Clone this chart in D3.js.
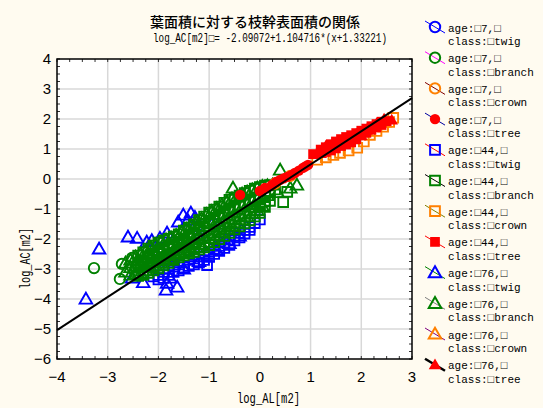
<!DOCTYPE html>
<html><head><meta charset="utf-8">
<script src="https://cdn.jsdelivr.net/npm/d3@7"></script>
<style>body{margin:0;background:#FFFBF0;}svg{display:block;}</style>
</head><body>
<script>
// ---- data ----
const title = "葉面積に対する枝幹表面積の関係";
const subtitle = "log_AC[m2]□= -2.09072+1.104716*(x+1.33221)";
const xLabel = "log_AL[m2]";
const yLabel = "log_AC[m2]";
const xTicks = [-4,-3,-2,-1,0,1,2,3];
const yTicks = [4,3,2,1,0,-1,-2,-3,-4,-5,-6];
const ages = ["7","44","76"];
const classes = ["twig","branch","crown","tree"];
const regA = -2.09072, regB = 1.104716, regC = 1.33221;

const twig7 = [[-1.6,-2.2],[-1.2,-1.85],[-0.9,-1.5]];
const branch7 = [[-3.27,-2.97],[-2.76,-3.33],[-2.72,-2.83],[-2.52,-2.63],[-2.45,-2.95],[-2.35,-2.75],[-2.2,-2.55],[-2.0,-2.4],[-1.8,-2.2],[-1.6,-2.0],[-1.4,-1.85],[-1.2,-1.6],[-1.0,-1.45],[-0.8,-1.2],[-0.6,-1.0]];
const crown7 = [[0.3,-0.15],[0.6,0.1]];
const tree7 = [[-0.39,-0.53],[0.0,-0.4],[0.1,-0.3],[0.24,-0.2],[0.32,-0.1],[0.4,-0.03],[0.47,0.02],[0.54,0.07],[0.62,0.13],[0.69,0.2],[0.77,0.28],[0.85,0.37],[0.9,0.42],[0.95,0.47]];
const twig44 = [[-2.1,-3.25],[-2.0,-3.2],[-2.0,-3.35],[-1.9,-3.1],[-1.9,-3.3],[-1.8,-3.0],[-1.8,-3.2],[-1.7,-2.92],[-1.7,-3.1],[-1.6,-2.85],[-1.6,-3.05],[-1.5,-2.78],[-1.5,-2.95],[-1.4,-2.7],[-1.4,-2.9],[-1.3,-2.65],[-1.3,-2.85],[-1.2,-2.58],[-1.2,-2.78],[-1.1,-2.5],[-1.1,-2.7],[-1.0,-2.43],[-1.0,-2.6],[-1.04,-2.87],[-0.9,-2.33],[-0.9,-2.5],[-0.8,-2.23],[-0.8,-2.4],[-0.7,-2.12],[-0.7,-2.3],[-0.6,-2.02],[-0.6,-2.2],[-0.5,-1.9],[-0.5,-2.05],[-0.4,-1.8],[-0.4,-1.95],[-0.3,-1.7],[-0.3,-1.82],[-0.2,-1.6],[-0.2,-1.7],[-0.1,-1.47],[0.0,-1.35]];
const branch44 = [
 [-2.4,-2.55],[-2.4,-2.8],[-2.4,-3.05],[-2.4,-3.23],
 [-2.3,-2.44],[-2.3,-2.7],[-2.3,-2.95],[-2.3,-3.2],
 [-2.2,-2.32],[-2.2,-2.6],[-2.2,-2.85],[-2.2,-3.13],
 [-2.1,-2.22],[-2.1,-2.5],[-2.1,-2.78],[-2.1,-3.05],
 [-2.0,-2.12],[-2.0,-2.4],[-2.0,-2.7],[-2.0,-2.98],
 [-1.9,-2.05],[-1.9,-2.33],[-1.9,-2.6],[-1.9,-2.88],
 [-1.8,-1.99],[-1.8,-2.25],[-1.8,-2.52],[-1.8,-2.8],
 [-1.7,-1.92],[-1.7,-2.18],[-1.7,-2.45],[-1.7,-2.7],
 [-1.6,-1.84],[-1.6,-2.1],[-1.6,-2.36],[-1.6,-2.61],
 [-1.5,-1.72],[-1.5,-2.0],[-1.5,-2.28],[-1.5,-2.55],
 [-1.4,-1.62],[-1.4,-1.9],[-1.4,-2.2],[-1.4,-2.48],
 [-1.3,-1.52],[-1.3,-1.8],[-1.3,-2.1],[-1.3,-2.43],
 [-1.2,-1.37],[-1.2,-1.68],[-1.2,-2.0],[-1.2,-2.35],
 [-1.1,-1.25],[-1.1,-1.57],[-1.1,-1.9],[-1.1,-2.28],
 [-1.0,-1.12],[-1.0,-1.45],[-1.0,-1.8],[-1.0,-2.21],
 [-0.9,-1.02],[-0.9,-1.35],[-0.9,-1.7],[-0.9,-2.11],
 [-0.8,-0.92],[-0.8,-1.25],[-0.8,-1.6],[-0.8,-2.01],
 [-0.7,-0.79],[-0.7,-1.15],[-0.7,-1.5],[-0.7,-1.9],
 [-0.6,-0.69],[-0.6,-1.05],[-0.6,-1.42],[-0.6,-1.8],
 [-0.5,-0.62],[-0.5,-0.95],[-0.5,-1.32],[-0.5,-1.68],
 [-0.4,-0.55],[-0.4,-0.88],[-0.4,-1.22],[-0.4,-1.58],
 [-0.3,-0.47],[-0.3,-0.8],[-0.3,-1.15],[-0.3,-1.48],
 [-0.2,-0.39],[-0.2,-0.72],[-0.2,-1.05],[-0.2,-1.38],
 [-0.1,-0.32],[-0.1,-0.65],[-0.1,-0.95],[-0.1,-1.25],
 [0.0,-0.27],[0.0,-0.58],[0.0,-0.85],[0.0,-1.13],
 [0.1,-0.22],[0.1,-0.5],[0.1,-0.75],[0.1,-0.93],
 [0.2,-0.2],[0.2,-0.45],[0.2,-0.73],
 [0.3,-0.35],[0.46,-0.77],[0.54,-0.43]];
const crown44 = [[1.13,0.64],[1.3,0.72],[1.45,0.8],[1.58,0.87],[1.75,0.95],[1.92,1.04],[2.05,1.25],[2.17,1.47],[2.3,1.6],[2.43,1.74],[2.55,1.9],[2.63,2.04]];
const tree44 = [[1.05,0.83],[1.2,0.98],[1.2,0.87],[1.3,1.06],[1.3,0.9],[1.4,1.16],[1.4,0.95],[1.5,1.25],[1.5,1.02],[1.6,1.33],[1.6,1.1],[1.7,1.4],[1.7,1.15],[1.8,1.46],[1.8,1.22],[1.9,1.53],[1.9,1.32],[2.0,1.61],[2.0,1.45],[2.1,1.68],[2.1,1.54],[2.2,1.76],[2.2,1.64],[2.3,1.83],[2.3,1.72],[2.4,1.91],[2.4,1.8],[2.5,1.93]];
const twig76 = [[-3.43,-4.0],[-3.17,-2.33],[-2.6,-1.93],[-2.42,-1.97],[-2.23,-2.1],[-2.13,-2.05],[-1.97,-1.97],[-1.83,-1.8],[-1.61,-1.43],[-1.51,-1.2],[-1.36,-1.13],[-1.28,-1.27],[-1.42,-1.37],[-1.85,-3.7],[-1.63,-3.6],[-1.83,-3.47],[-1.77,-3.3],[-0.85,-2.37],[-2.52,-3.3],[-2.3,-3.45],[-1.5,-3.0],[-1.2,-2.75],[-0.6,-2.15],[-0.4,-1.9],[-2.0,-2.6],[-1.6,-2.3],[-1.2,-1.9],[-0.8,-1.5]];
const branch76 = [
 [-2.65,-2.8],[-2.65,-3.1],
 [-2.55,-2.7],[-2.55,-2.95],[-2.55,-3.2],
 [-2.45,-2.6],[-2.45,-2.9],[-2.45,-3.15],
 [-2.35,-2.5],[-2.35,-2.85],[-2.35,-3.15],
 [-2.25,-2.4],[-2.25,-2.75],[-2.25,-3.05],
 [-2.15,-2.28],[-2.15,-2.65],[-2.15,-2.95],
 [-2.05,-2.18],[-2.05,-2.55],[-2.05,-2.9],
 [-1.95,-2.1],[-1.95,-2.45],[-1.95,-2.8],
 [-1.85,-2.02],[-1.85,-2.38],[-1.85,-2.72],
 [-1.75,-1.96],[-1.75,-2.3],[-1.75,-2.65],
 [-1.65,-1.88],[-1.65,-2.22],[-1.65,-2.55],
 [-1.55,-1.78],[-1.55,-2.12],[-1.55,-2.48],
 [-1.45,-1.67],[-1.45,-2.05],[-1.45,-2.42],
 [-1.35,-1.55],[-1.35,-1.95],[-1.35,-2.35],
 [-1.25,-1.45],[-1.25,-1.85],[-1.25,-2.28],
 [-1.15,-1.32],[-1.15,-1.72],[-1.15,-2.18],
 [-1.05,-1.18],[-1.05,-1.6],[-1.05,-2.1],
 [-0.95,-1.08],[-0.95,-1.5],[-0.95,-1.98],
 [-0.85,-0.98],[-0.85,-1.4],[-0.85,-1.88],
 [-0.75,-0.86],[-0.75,-1.3],[-0.75,-1.75],
 [-0.65,-0.75],[-0.65,-1.2],[-0.65,-1.65],
 [-0.55,-0.66],[-0.55,-1.1],[-0.55,-1.55],
 [-0.45,-0.58],[-0.45,-1.0],[-0.45,-1.45],
 [-0.35,-0.5],[-0.35,-0.92],[-0.35,-1.35],
 [-0.25,-0.43],[-0.25,-0.85],[-0.25,-1.25],
 [-0.15,-0.36],[-0.15,-0.75],[-0.15,-1.15],
 [-0.05,-0.3],[-0.05,-0.68],[-0.05,-1.05],
 [0.05,-0.25],[0.05,-0.6],[0.05,-0.9],
 [0.15,-0.22],[0.15,-0.55],
 [0.25,-0.2],
 [0.4,0.3],[-0.53,-0.3],[0.73,-0.2],[0.35,-0.45],[0.6,-0.3]];
const crown76 = [[2.45,1.9],[1.7,1.25]];
const tree76 = [[1.3,1.1],[1.5,1.2],[1.7,1.35],[1.9,1.5],[2.1,1.65],[2.3,1.85],[2.45,2.0],[2.6,1.97],[1.2,0.85],[2.0,1.45]];

// series in legend order
const seriesList = [
  {age:"7", cls:"twig",   pts:twig7,   shape:"circle",   color:"#0000FF", fill:false, line:"#0000FF", lw:1},
  {age:"7", cls:"branch", pts:branch7, shape:"circle",   color:"#008000", fill:false, line:"#FF00FF", lw:1},
  {age:"7", cls:"crown",  pts:crown7,  shape:"circle",   color:"#FF8000", fill:false, line:"#800000", lw:1},
  {age:"7", cls:"tree",   pts:tree7,   shape:"circle",   color:"#FF0000", fill:true,  line:"#0000A0", lw:1},
  {age:"44",cls:"twig",   pts:twig44,  shape:"square",   color:"#0000FF", fill:false, line:"#FF0000", lw:1},
  {age:"44",cls:"branch", pts:branch44,shape:"square",   color:"#008000", fill:false, line:"#000000", lw:1},
  {age:"44",cls:"crown",  pts:crown44, shape:"square",   color:"#FF8000", fill:false, line:"#808000", lw:1},
  {age:"44",cls:"tree",   pts:tree44,  shape:"square",   color:"#FF0000", fill:true,  line:"#FF0000", lw:1},
  {age:"76",cls:"twig",   pts:twig76,  shape:"triangle", color:"#0000FF", fill:false, line:"#008000", lw:1},
  {age:"76",cls:"branch", pts:branch76,shape:"triangle", color:"#008000", fill:false, line:"#808080", lw:1},
  {age:"76",cls:"crown",  pts:crown76, shape:"triangle", color:"#FF8000", fill:false, line:"#800080", lw:1},
  {age:"76",cls:"tree",   pts:tree76,  shape:"triangle", color:"#FF0000", fill:true,  line:"#000000", lw:2.5}
];

// ---- drawing ----
const W=543, H=408;
const svg = d3.select("body").append("svg").attr("width",W).attr("height",H);
svg.append("rect").attr("width",W).attr("height",H).attr("fill","#FFFBF0");

const x = d3.scaleLinear().domain([-4,3]).range([57,412]);
const y = d3.scaleLinear().domain([-6,4]).range([359,59]);

svg.append("rect").attr("x",x(-4)).attr("y",y(4)).attr("width",x(3)-x(-4)).attr("height",y(-6)-y(4)).attr("fill","#FFFFFF");

// grid
const grid = svg.append("g");
grid.selectAll("line.gx").data(xTicks.slice(1,-1)).join("line")
  .attr("x1",d=>x(d)).attr("x2",d=>x(d)).attr("y1",y(4)).attr("y2",y(-6))
  .attr("stroke","#D8D8D8").attr("stroke-width",1.5);
grid.selectAll("line.gy").data(yTicks.slice(1,-1)).join("line")
  .attr("y1",d=>y(d)).attr("y2",d=>y(d)).attr("x1",x(-4)).attr("x2",x(3))
  .attr("stroke","#D8D8D8").attr("stroke-width",1.5);

// minor ticks (inside)
const xMinor = d3.range(-4,3.001,0.25);
const yMinor = d3.range(-6,4.001,0.25);
const tk = svg.append("g").attr("stroke","#333").attr("stroke-width",1);
xMinor.forEach(v=>{
  tk.append("line").attr("x1",x(v)).attr("x2",x(v)).attr("y1",y(4)).attr("y2",y(4)+3);
  tk.append("line").attr("x1",x(v)).attr("x2",x(v)).attr("y1",y(-6)).attr("y2",y(-6)-3);
});
yMinor.forEach(v=>{
  tk.append("line").attr("y1",y(v)).attr("y2",y(v)).attr("x1",x(3)).attr("x2",x(3)-3);
  tk.append("line").attr("y1",y(v)).attr("y2",y(v)).attr("x1",x(-4)).attr("x2",x(-4)+3);
});

// symbols
const symType = {circle:d3.symbolCircle, square:d3.symbolSquare, triangle:d3.symbolTriangle};
const symSize = {circle:85, square:95, triangle:68};
function sym(shape){ return d3.symbol().type(symType[shape]).size(symSize[shape])(); }

// draw order: by class (twig, branch, crown, tree), then age
const drawOrder = [];
classes.forEach(c=>ages.forEach(a=>{ const s=seriesList.find(s=>s.age===a&&s.cls===c); if(s) drawOrder.push(s); }));

const plot = svg.append("g");
drawOrder.forEach(s=>{
  plot.append("g").selectAll("path").data(s.pts).join("path")
    .attr("d", sym(s.shape))
    .attr("transform", d=>`translate(${x(d[0])},${y(d[1]) + (s.shape==="triangle"?1:0)})`)
    .attr("fill", s.fill? s.color : "none")
    .attr("stroke", s.color).attr("stroke-width", s.fill?0:1.9);
});

// regression line
svg.append("line")
  .attr("x1",x(-4)).attr("y1",y(regA+regB*(-4+regC)))
  .attr("x2",x(3)).attr("y2",y(regA+regB*(3+regC)))
  .attr("stroke","#000").attr("stroke-width",2);

// frame
svg.append("rect").attr("x",x(-4)).attr("y",y(4)).attr("width",x(3)-x(-4)).attr("height",y(-6)-y(4))
  .attr("fill","none").attr("stroke","#000").attr("stroke-width",1.5);

// tick labels
const fmt = d3.format("d");
const tickFont = "'Liberation Sans Narrow','Liberation Sans',sans-serif";
svg.append("g").selectAll("text").data(xTicks).join("text")
  .attr("x",d=>x(d)).attr("y",382).attr("text-anchor","middle")
  .attr("font-family",tickFont).attr("font-size",15).attr("fill","#000").text(d=>fmt(d));
svg.append("g").selectAll("text").data(yTicks).join("text")
  .attr("x",51).attr("y",d=>y(d)+5).attr("text-anchor","end")
  .attr("font-family",tickFont).attr("font-size",15).attr("fill","#000").text(d=>fmt(d));

// titles
const mono = "'Liberation Mono','DejaVu Sans Mono',monospace";
svg.append("text").attr("x",255).attr("y",27).attr("text-anchor","middle")
  .attr("font-family","'Noto Sans CJK JP',sans-serif").attr("font-size",14).attr("font-weight",500).text(title);
svg.append("text").attr("x",153).attr("y",42)
  .attr("font-family",mono).attr("font-size",12).attr("textLength",234).attr("lengthAdjust","spacingAndGlyphs").text(subtitle);
svg.append("text").attr("x",237).attr("y",403)
  .attr("font-family",mono).attr("font-size",14).attr("textLength",63).attr("lengthAdjust","spacingAndGlyphs").text(xLabel);
svg.append("text").attr("transform","translate(30,289) rotate(-90)")
  .attr("font-family",mono).attr("font-size",14).attr("textLength",61).attr("lengthAdjust","spacingAndGlyphs").text(yLabel);

// legend
const lg = svg.append("g");
seriesList.forEach((s,i)=>{
  const cy = 27 + 30.7*i, cx = 435;
  lg.append("line").attr("x1",cx-10).attr("y1",cy-6).attr("x2",cx+10).attr("y2",cy+6)
    .attr("stroke",s.line).attr("stroke-width",s.lw);
  lg.append("path").attr("d",sym(s.shape)).attr("transform",`translate(${cx},${cy + (s.shape==="triangle"?1:0)})`)
    .attr("fill", s.fill? s.color : "none").attr("stroke", s.color).attr("stroke-width", s.fill?0:2);
  const l1 = `age:□${s.age},□`, l2 = `class:□${s.cls}`;
  lg.append("text").attr("x",448).attr("y",cy+4.5).attr("font-family",mono).attr("font-size",11.5)
    .attr("textLength",l1.length*6.6).attr("lengthAdjust","spacingAndGlyphs").text(l1);
  lg.append("text").attr("x",448).attr("y",cy+18).attr("font-family",mono).attr("font-size",11.5)
    .attr("textLength",l2.length*6.6).attr("lengthAdjust","spacingAndGlyphs").text(l2);
});
</script>
</body></html>
